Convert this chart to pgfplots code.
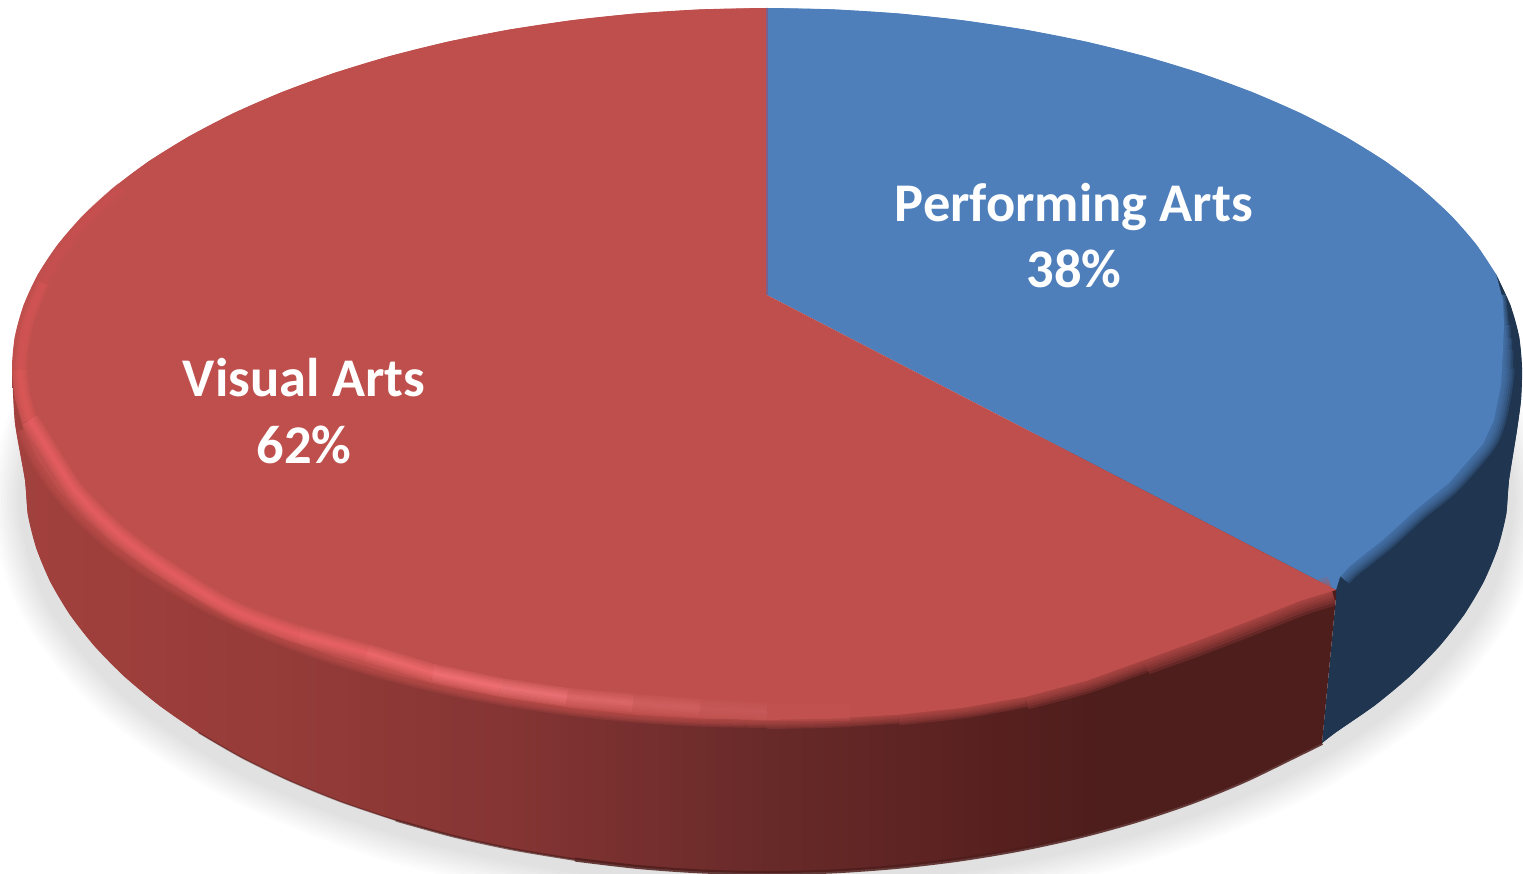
\documentclass[border=0pt]{standalone}
\usepackage{fontspec}
\setmainfont{Carlito}
\usepackage{pgfplots}
\usepackage{pgfplotstable}
\pgfplotsset{compat=1.18}

\definecolor{faceRed}{HTML}{BE4F4C}
\definecolor{faceBlue}{HTML}{4E7FBB}
\definecolor{wallBlue}{HTML}{1F3550}
\definecolor{wallA}{HTML}{A2413D}
\definecolor{wallB}{HTML}{9A3D3A}
\definecolor{wallC}{HTML}{943B38}
\definecolor{wallD}{HTML}{853534}
\definecolor{wallE}{HTML}{682A29}
\definecolor{wallF}{HTML}{57201F}
\definecolor{wallG}{HTML}{4E1E1C}
\definecolor{HLa}{HTML}{C85252}
\definecolor{HLb}{HTML}{D85657}
\definecolor{HLb2}{HTML}{E05A5B}
\definecolor{HLc}{HTML}{EC6165}
\definecolor{HLd}{HTML}{F0666A}
\definecolor{HLe}{HTML}{F46C70}
\definecolor{HLf}{HTML}{F87579}
\definecolor{HLg}{HTML}{F2767A}
\definecolor{HLh}{HTML}{E26C6D}
\definecolor{HLi}{HTML}{D26363}
\definecolor{HLj}{HTML}{C95C5B}
\definecolor{HLk}{HTML}{C35452}
\definecolor{HLs}{HTML}{7D5F87}

% Side wall of the larger slice: light at the left, dark at the right
\pgfdeclarehorizontalshading{redwall}{100bp}{
  color(0bp)=(wallA); color(25bp)=(wallA); color(32bp)=(wallB);
  color(36bp)=(wallC); color(43.4bp)=(wallD); color(53.5bp)=(wallE);
  color(62.3bp)=(wallF); color(66bp)=(wallG); color(100bp)=(wallG)}
% The same ramp for the curved part, whose extent ends a little earlier
\pgfdeclarehorizontalshading{redwallarc}{100bp}{
  color(0bp)=(wallA); color(25bp)=(wallA); color(32.2bp)=(wallB);
  color(36bp)=(wallC); color(43.6bp)=(wallD); color(53.8bp)=(wallE);
  color(62.7bp)=(wallF); color(66.5bp)=(wallG); color(100bp)=(wallG)}

% Outline of the soft shadow under the disc
\pgfplotstableread{
x y
1403.5 313.5
1477 403.5
1502 500
1477 596.5
1403.5 686.5
1286.7 763.8
1134.5 823
957.2 860.3
767 873
576.8 860.3
399.5 823
247.3 763.8
130.5 686.5
57 596.5
32 500
57 403.5
130.5 313.5
}\shadowcurve

% Side wall, red slice: silhouette from the left edge to the slice border
\pgfplotstableread{
x y
12 368
15 423
25 480
27.8 514.3
36.3 548.2
50.3 581.7
69.7 614.4
94.5 646.1
124.4 676.5
159.2 705.4
198.6 732.6
242.3 757.9
290.1 781
341.4 801.9
396 820.3
453.4 836.2
513.2 849.3
575 859.6
638.2 867
702.3 871.5
767 873
831.7 871.5
895.8 867
959 859.6
1020.8 849.3
1080.6 836.2
1138 820.3
1192.6 801.9
1243.9 781
1291.7 757.9
1322 743
1336 597
1336 585
767 300
}\wallred

% The curved lower edge of that wall on its own
\pgfplotstableread{
x y
12 368
15 423
25 480
27.8 514.3
36.3 548.2
50.3 581.7
69.7 614.4
94.5 646.1
124.4 676.5
159.2 705.4
198.6 732.6
242.3 757.9
290.1 781
341.4 801.9
396 820.3
453.4 836.2
513.2 849.3
575 859.6
638.2 867
702.3 871.5
767 873
831.7 871.5
895.8 867
959 859.6
1020.8 849.3
1080.6 836.2
1138 820.3
1192.6 801.9
1243.9 781
1291.7 757.9
1322 743
}\wallredarc

% Side wall, blue slice
\pgfplotstableread{
x y
1496.3 274.8
1510.5 305.5
1519.1 336.6
1522 368
1521 400
1517 430
1509 480
1506.2 514.3
1497.7 548.2
1483.7 581.7
1464.3 614.4
1439.5 646.1
1409.6 676.5
1374.8 705.4
1335.4 732.6
1322 743
1336 597
1300 500
}\wallblue
\pgfplotstableread{
x y
1496.3 274.8
1510.5 305.5
1519.1 336.6
1522 368
1521 400
1517 430
1509 480
1506.2 514.3
1497.7 548.2
1483.7 581.7
1464.3 614.4
1439.5 646.1
1409.6 676.5
1374.8 705.4
1335.4 732.6
1322 743
}\wallbluearc

% Lower edge of the wall, a dark line that thickens towards the middle
\pgfplotstableread{
x y
198.6 732.6
242.3 757.9
290.1 781
341.4 801.9
396 820.3
}\walledgeA
\pgfplotstableread{
x y
396 820.3
453.4 836.2
513.2 849.3
575 859.6
}\walledgeB
\pgfplotstableread{
x y
575 859.6
638.2 867
702.3 871.5
767 873
831.7 871.5
895.8 867
959 859.6
1020.8 849.3
1080.6 836.2
1138 820.3
1192.6 801.9
1243.9 781
1291.7 757.9
1322 743
}\walledgeC

% Top face of the blue slice (38 %)
\pgfplotstableread{
x y
767 295
767 8
832.8 9.4
898.1 13.5
962.4 20.3
1025.2 29.7
1086.1 41.7
1144.5 56.2
1200.1 73.1
1252.3 92.2
1300.9 113.4
1345.3 136.6
1385.5 161.5
1420.8 188
1451.3 215.9
1476.5 244.9
1496.3 274.8
1503 300
1504 325
1503 350
1501 385
1494 420
1483 444
1449 483
1417 509
1384 539
1350 566
1340 577
1336 590
}\faceblue
\pgfplotstableread{
x y
767 8
832.8 9.4
898.1 13.5
962.4 20.3
1025.2 29.7
1086.1 41.7
1144.5 56.2
1200.1 73.1
1252.3 92.2
1300.9 113.4
1345.3 136.6
1385.5 161.5
1420.8 188
1451.3 215.9
1476.5 244.9
1496.3 274.8
}\bluearc

% Soft lower rim of the blue face: narrow at the top, wider below
\pgfplotstableread{
x y
1500 295
1503 325
}\rimblueA
\pgfplotstableread{
x y
1503 325
1503.5 338
}\rimblueB
\pgfplotstableread{
x y
1503.5 338
1503 350
}\rimblueC
\pgfplotstableread{
x y
1503 350
1502.5 368
}\rimblueD
\pgfplotstableread{
x y
1502.5 368
1501 385
1494 420
1483 444
1449 483
1417 509
1384 539
1350 566
1340 576
}\rimblueE

% Top face of the red slice (62 %)
\pgfplotstableread{
x y
767 295
767 8
701.2 9.4
635.9 13.5
571.6 20.3
508.8 29.7
447.9 41.7
389.5 56.2
333.9 73.1
281.7 92.2
233.1 113.4
188.7 136.6
148.5 161.5
113.2 188
82.7 215.9
57.5 244.9
37.7 274.8
23.5 305.5
14.9 336.6
12 368
14.9 398.7
23.5 429.1
37.7 459.1
57.5 488.4
82.7 516.7
113.2 544
148.5 569.9
188.7 594.3
233.1 617
281.7 637.7
333.9 656.4
389.5 672.9
447.9 687
508.8 698.8
571.6 708
635.9 714.7
701.2 718.7
767 720
832.8 718.7
898.1 714.7
962.4 708
1025.2 697
1086.1 681
1144.5 660
1200 640
1252 620
1300 601
1336 590
}\facered
\pgfplotstableread{
x y
767 8
701.2 9.4
635.9 13.5
571.6 20.3
508.8 29.7
447.9 41.7
389.5 56.2
333.9 73.1
281.7 92.2
233.1 113.4
188.7 136.6
148.5 161.5
113.2 188
82.7 215.9
57.5 244.9
37.7 274.8
23.5 305.5
14.9 336.6
12 368
14.9 398.7
}\redarc

% Soft lower rim of the red face, in parts that widen to the right
\pgfplotstableread{
x y
23.5 429.1
37.7 459.1
57.5 488.4
82.7 516.7
113.2 544
148.5 569.9
188.7 594.3
233.1 617
281.7 637.7
333.9 656.4
389.5 672.9
447.9 687
508.8 698.8
571.6 708
635.9 714.7
701.2 718.7
767 720
}\rimredA
\pgfplotstableread{
x y
767 720
832.8 718.7
898.1 714.7
}\rimredB
\pgfplotstableread{
x y
898.1 714.7
962.4 708
1025.2 697
}\rimredC
\pgfplotstableread{
x y
1025.2 697
1086.1 681
1144.5 660
}\rimredD
\pgfplotstableread{
x y
1144.5 660
1200 640
1252 620
1300 601
1332 591
}\rimredE

% Bevel highlight along the red face, section by section
\pgfplotstableread{
x y
122 188
92 215
66 245
43 283
}\hlA
\pgfplotstableread{
x y
43 283
27 325
20 370
}\hlB
\pgfplotstableread{
x y
20 370
23 395
30 420
}\hlBB
\pgfplotstableread{
x y
30 420
53 457
77 493
117 533
167 570
233 610
300 635
}\hlC
\pgfplotstableread{
x y
300 635
367 653
}\hlD
\pgfplotstableread{
x y
367 653
433 673
}\hlE
\pgfplotstableread{
x y
433 673
500 687
}\hlF
\pgfplotstableread{
x y
500 687
567 697
}\hlG
\pgfplotstableread{
x y
567 697
633 703
}\hlH
\pgfplotstableread{
x y
633 703
700 708
}\hlI
\pgfplotstableread{
x y
700 708
767 712
}\hlJ
\pgfplotstableread{
x y
767 712
850 712
}\hlK

% Stacks six translucent strokes of falling width, which gives a soft edge
\newcommand{\softline}[9]{%
  \addplot[no marks, smooth, draw=#1, draw opacity=#2, line width=#4pt, line cap=butt, line join=round] table {#3};
  \addplot[no marks, smooth, draw=#1, draw opacity=#2, line width=#5pt, line cap=butt, line join=round] table {#3};
  \addplot[no marks, smooth, draw=#1, draw opacity=#2, line width=#6pt, line cap=butt, line join=round] table {#3};
  \addplot[no marks, smooth, draw=#1, draw opacity=#2, line width=#7pt, line cap=butt, line join=round] table {#3};
  \addplot[no marks, smooth, draw=#1, draw opacity=#2, line width=#8pt, line cap=butt, line join=round] table {#3};
  \addplot[no marks, smooth, draw=#1, draw opacity=#2, line width=#9pt, line cap=butt, line join=round] table {#3};
}
\newcommand{\hl}[2]{\softline{#1}{0.26}{#2}{18}{14}{10}{7}{4}{2}}
\newcommand{\hlthin}[2]{\softline{#1}{0.22}{#2}{13}{11}{9}{7}{5}{2}}

\begin{document}
\begin{tikzpicture}
\begin{axis}[
  name=ax,
  width=1523pt, height=874pt, scale only axis,
  xmin=0, xmax=1523, ymin=0, ymax=874, y dir=reverse,
  hide axis, clip=true
]
% shadow on the ground
\pgfplotsinvokeforeach{80,74,68,62,56,50,44,38,32,26}{
  \addplot[no marks, smooth, draw=black, draw opacity=0.013, line width=#1pt] table {\shadowcurve};
}

% side walls
\addplot[draw=none, fill=wallBlue] table {\wallblue} -- cycle;
\addplot[smooth, draw=none, fill=wallBlue] table {\wallbluearc} -- cycle;
\addplot[draw=none, shading=redwall] table {\wallred} -- cycle;
\addplot[smooth, draw=none, shading=redwallarc] table {\wallredarc} -- cycle;
\addplot[no marks, smooth, draw=wallG, draw opacity=0.5, line width=1.5pt] table {\walledgeA};
\addplot[no marks, smooth, draw=wallG, draw opacity=0.7, line width=2.5pt] table {\walledgeB};
\addplot[no marks, smooth, draw=wallG, draw opacity=0.85, line width=4pt] table {\walledgeC};

% blue face with its soft rim
\addplot[draw=none, fill=faceBlue] table {\faceblue} -- cycle;
\addplot[smooth, draw=none, fill=faceBlue] table {\bluearc} -- cycle;
\softline{faceBlue}{0.22}{\rimblueA}{12}{10}{8}{6}{4}{2}
\softline{faceBlue}{0.22}{\rimblueB}{15}{12}{10}{7}{5}{2}
\softline{faceBlue}{0.22}{\rimblueC}{18}{15}{12}{9}{6}{3}
\softline{faceBlue}{0.22}{\rimblueD}{21}{17}{14}{10}{7}{3}
\softline{faceBlue}{0.22}{\rimblueE}{24}{20}{16}{12}{8}{4}

% red face with its soft rim
\addplot[draw=none, fill=faceRed] table {\facered} -- cycle;
\addplot[smooth, draw=none, fill=faceRed] table {\redarc} -- cycle;
\softline{faceRed}{0.22}{\rimredA}{16}{13}{10}{8}{5}{2}
\softline{faceRed}{0.22}{\rimredB}{18}{15}{11}{8}{5}{3}
\softline{faceRed}{0.22}{\rimredC}{21}{17}{13}{9}{6}{3}
\softline{faceRed}{0.22}{\rimredD}{25}{20}{15}{11}{7}{3}
\softline{faceRed}{0.22}{\rimredE}{30}{24}{18}{13}{8}{4}

% bevel highlight
\hlthin{HLa}{\hlA}
\hlthin{HLb}{\hlB}
\softline{HLb2}{0.24}{\hlBB}{15}{12}{9}{7}{4}{2}
\hl{HLc}{\hlC}
\hl{HLd}{\hlD}
\hl{HLe}{\hlE}
\hl{HLf}{\hlF}
\hl{HLg}{\hlG}
\hl{HLh}{\hlH}
\hl{HLi}{\hlI}
\hl{HLj}{\hlJ}
\hl{HLk}{\hlK}

% seam between the slices
\addplot[no marks, draw=HLs, line width=2.5pt] coordinates {(767,8) (767,295)};

% labels
\node[text=white, anchor=base, font=\fontsize{54.5}{60}\selectfont\bfseries] at (axis cs:1074,222) {Performing Arts};
\node[text=white, anchor=base, font=\fontsize{54.5}{60}\selectfont\bfseries] at (axis cs:1074,288) {38\%};
\node[text=white, anchor=base, font=\fontsize{54.5}{60}\selectfont\bfseries] at (axis cs:304,396) {Visual Arts};
\node[text=white, anchor=base, font=\fontsize{54.5}{60}\selectfont\bfseries] at (axis cs:304,463) {62\%};
\end{axis}
\pgfresetboundingbox
\path[use as bounding box] (ax.south west) rectangle (ax.north east);
\end{tikzpicture}
\end{document}
